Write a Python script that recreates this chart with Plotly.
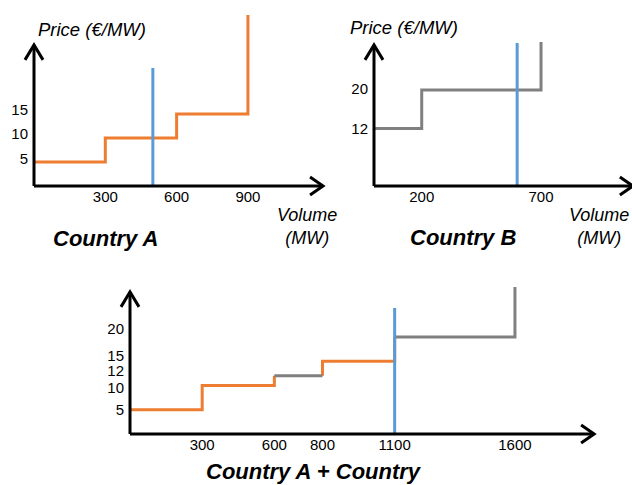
import plotly.graph_objects as go

# ---------------- data ----------------
a_breaks = [0, 300, 600, 900]
a_prices = [5, 10, 15]
a_source = ["A", "A", "A"]
a_cap = 35.6
a_clear_volume = 500
a_clear_top = 24.6
a_xticks = [300, 600, 900]
a_yticks = [5, 10, 15]

b_breaks = [0, 200, 700]
b_prices = [12, 20]
b_source = ["B", "B"]
b_cap = 30
b_clear_volume = 600
b_clear_top = 29.8
b_xticks = [200, 700]
b_yticks = [12, 20]

c_breaks = [0, 300, 600, 800, 1100, 1600]
c_prices = [5, 10, 12, 15, 20]
c_source = ["A", "A", "B", "A", "B"]
c_cap = 30.3
c_clear_volume = 1100
c_clear_top = 26
c_xticks = [300, 600, 800, 1100, 1600]
c_yticks = [5, 10, 12, 15, 20]

COLORS = {"A": "#ED7D31", "B": "#808080"}
BLUE = "#5B9BD5"
FONT = "Liberation Sans, Arial, sans-serif"

W, H = 632, 485


def fx(p):
    return p / W


def fy(p):
    return 1 - p / H


# panel geometry: origin pixel, x range max, px per x unit, y range max, px per y unit,
# arrow tips (data units), vertical pixel nudge of y tick labels (style only)
panels = [
    dict(ox=34, oy=186, xmax=1300, sx=0.2377, ymax=37, sy=4.8, xtip=1216, ytip=29.4,
         ynudge=[3, 4, 4]),
    dict(ox=374, oy=186, xmax=1080, sx=0.2386, ymax=37, sy=4.8, xtip=1085, ytip=29.4,
         ynudge=[0, 1]),
    dict(ox=130, oy=434, xmax=2000, sx=0.2406, ymax=32, sy=4.85, xtip=1929, ytip=29.3,
         ynudge=[0, -2, 5, 6, 8]),
]

datasets = [
    (a_breaks, a_prices, a_source, a_cap, a_clear_volume, a_clear_top, a_xticks, a_yticks),
    (b_breaks, b_prices, b_source, b_cap, b_clear_volume, b_clear_top, b_xticks, b_yticks),
    (c_breaks, c_prices, c_source, c_cap, c_clear_volume, c_clear_top, c_xticks, c_yticks),
]


def step_pieces(breaks, prices, source, cap):
    pieces = []
    n = len(prices)
    for i in range(n):
        if i > 0:
            col = "A" if "A" in (source[i - 1], source[i]) else source[i]
            pieces.append((col, (breaks[i], prices[i - 1]), (breaks[i], prices[i])))
        pieces.append((source[i], (breaks[i], prices[i]), (breaks[i + 1], prices[i])))
    pieces.append((source[-1], (breaks[n], prices[-1]), (breaks[n], cap)))
    lines = {}
    for col, p0, p1 in pieces:
        polys = lines.setdefault(col, [])
        if polys and polys[-1][-1] == p0:
            polys[-1].append(p1)
        else:
            polys.append([p0, p1])
    return lines


fig = go.Figure()
layout = dict(
    width=W, height=H, margin=dict(l=0, r=0, t=0, b=0),
    paper_bgcolor="white", plot_bgcolor="white", showlegend=False,
    font=dict(family=FONT, color="black"),
)
shapes = []

for k, (pan, ds) in enumerate(zip(panels, datasets), start=1):
    breaks, prices, source, cap, cv, ctop, xt, yt = ds
    xa = "x" if k == 1 else f"x{k}"
    ya = "y" if k == 1 else f"y{k}"
    lines = step_pieces(breaks, prices, source, cap)
    for col, polys in lines.items():
        xs, ys = [], []
        for poly in polys:
            xs += [p[0] for p in poly] + [None]
            ys += [p[1] for p in poly] + [None]
        fig.add_trace(go.Scatter(x=xs, y=ys, mode="lines", xaxis=xa, yaxis=ya,
                                 line=dict(color=COLORS[col], width=3), hoverinfo="skip"))
    fig.add_trace(go.Scatter(x=[cv, cv], y=[0, ctop], mode="lines", xaxis=xa, yaxis=ya,
                             line=dict(color=BLUE, width=3), hoverinfo="skip"))

    x0 = fx(pan["ox"])
    x1 = fx(pan["ox"] + pan["xmax"] * pan["sx"])
    y0 = fy(pan["oy"])
    y1 = fy(pan["oy"] - pan["ymax"] * pan["sy"])
    axkey = "xaxis" if k == 1 else f"xaxis{k}"
    aykey = "yaxis" if k == 1 else f"yaxis{k}"
    tickfont = dict(family=FONT, size=15, color="black")
    ytickpos = [v + n / pan["sy"] for v, n in zip(yt, pan["ynudge"])]
    layout[axkey] = dict(domain=[x0, min(x1, 1)], range=[0, pan["xmax"]], anchor=ya,
                         showgrid=False, zeroline=False, showline=False, ticks="",
                         tickvals=xt, ticktext=[str(v) for v in xt], tickfont=tickfont,
                         fixedrange=True)
    layout[aykey] = dict(domain=[y0, y1], range=[0, pan["ymax"]], anchor=xa,
                         showgrid=False, zeroline=False, showline=False, ticks="",
                         tickvals=ytickpos, ticktext=[str(v) for v in yt], tickfont=tickfont,
                         ticklabelstandoff=5, fixedrange=True)

    xd, yd = f"{xa} domain", f"{ya} domain"
    xtip = pan["xtip"] / pan["xmax"]
    ytip = pan["ytip"] / pan["ymax"]
    ax_line = dict(color="black", width=3)
    shapes.append(dict(type="line", xref=xd, yref=yd, x0=0, y0=0, x1=xtip, y1=0, line=ax_line, layer="above"))
    shapes.append(dict(type="line", xref=xd, yref=yd, x0=0, y0=0, x1=0, y1=ytip, line=ax_line, layer="above"))
    shapes.append(dict(type="path", xref=xd, yref=yd, xsizemode="pixel", ysizemode="pixel",
                       xanchor=xtip, yanchor=0, path="M -13 9 L 0 0 L -13 -9",
                       line=ax_line, layer="above"))
    shapes.append(dict(type="path", xref=xd, yref=yd, xsizemode="pixel", ysizemode="pixel",
                       xanchor=0, yanchor=ytip, path="M -9 -15 L 0 0 L 9 -15",
                       line=ax_line, layer="above"))

layout["shapes"] = shapes


def ann(text, px, py, size, bold=False):
    t = f"<i>{text}</i>"
    if bold:
        t = f"<b>{t}</b>"
    return dict(text=t, x=fx(px), y=fy(py), xref="paper", yref="paper",
                xanchor="center", yanchor="middle", showarrow=False,
                font=dict(family=FONT, size=size, color="black"))


layout["annotations"] = [
    ann("Price (€/MW)", 92, 29, 18.5),
    ann("Price (€/MW)", 404, 27, 18.5),
    ann("Volume<br>(MW)", 307, 226, 18),
    ann("Volume<br>(MW)", 599, 226, 18),
    ann("Country A", 106, 238, 22, bold=True),
    ann("Country B", 463, 237, 22, bold=True),
    ann("Country A + Country", 314, 471, 22, bold=True),
]

fig.update_layout(**layout)
fig.write_html("out.html", config={"displayModeBar": False},
               post_script="document.body.style.margin='0';")
